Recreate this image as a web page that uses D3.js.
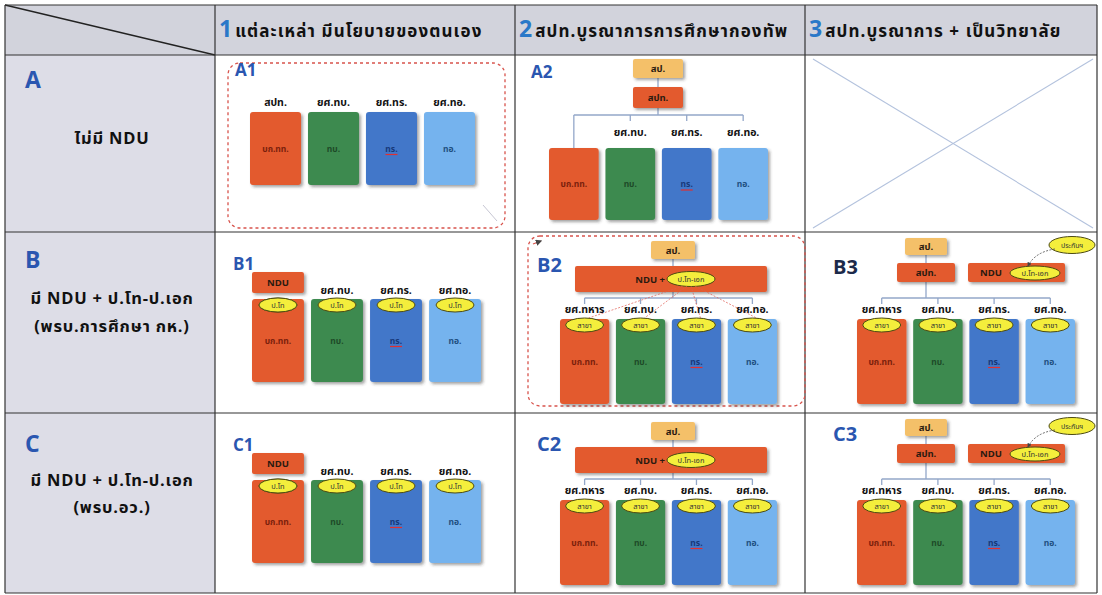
<!DOCTYPE html>
<html>
<head>
<meta charset="utf-8">
<script src="https://cdn.jsdelivr.net/npm/d3@7"></script>
<style>
  body { margin: 0; background: #fff; }
  text { font-family: "Noto Sans Thai", "Tahoma", "Noto Sans", sans-serif; }
</style>
</head>
<body>
<div id="container"></div>
<script>
/* DATA */
const colNums = ["1", "2", "3"];
const colTitles = ["แต่ละเหล่า มีนโยบายของตนเอง", "สปท.บูรณาการการศึกษากองทัพ", "สปท.บูรณาการ + เป็นวิทยาลัย"];
const rowKeys = ["A", "B", "C"];
const rowDesc = [["ไม่มี NDU"], ["มี NDU + ป.โท-ป.เอก", "(พรบ.การศึกษา กห.)"], ["มี NDU + ป.โท-ป.เอก", "(พรบ.อว.)"]];
const cellNames = [["A1", "A2", ""], ["B1", "B2", "B3"], ["C1", "C2", "C3"]];
const units = ["บก.ทท.", "ทบ.", "ทร.", "ทอ."];
const eduOwn = ["สปท.", "ยศ.ทบ.", "ยศ.ทร.", "ยศ.ทอ."];
const eduJoint = ["ยศ.ทหาร", "ยศ.ทบ.", "ยศ.ทร.", "ยศ.ทอ."];
const topOffice = "สป.";
const institute = "สปท.";
const college = "NDU";
const degreeTag = "ป.โท";
const branchTag = "สาขา";
const nduTag = "ป.โท-เอก";
const qaTag = "ประกันฯ";
const unitFill = ["#e35a2e", "#3d8a4f", "#4377c9", "#74b3ee"];
const unitInk = ["#7a200c", "#1d4a28", "#17397a", "#1f4f80"];

/* LAYOUT */
const W = 1102, H = 595;
const gx = [5, 215, 515, 805, 1097];
const gy = [5, 55, 232, 413, 593];
const blue = "#2a56b0";
const lineCol = "#93a7c9";

const svg = d3.select("#container").append("svg")
  .attr("width", W).attr("height", H);

const defs = svg.append("defs");
const f = defs.append("filter").attr("id", "sh").attr("x", "-20%").attr("y", "-20%").attr("width", "150%").attr("height", "150%");
f.append("feDropShadow").attr("dx", 2).attr("dy", 2).attr("stdDeviation", 1.4)
  .attr("flood-color", "#333").attr("flood-opacity", 0.45);
defs.append("marker").attr("id", "arr").attr("viewBox", "0 0 10 10")
  .attr("refX", 8).attr("refY", 5).attr("markerWidth", 5).attr("markerHeight", 5)
  .attr("orient", "auto")
  .append("path").attr("d", "M0,0L10,5L0,10z").attr("fill", "#444");

/* GRID BACKGROUND */
svg.append("rect").attr("x", gx[0]).attr("y", gy[0]).attr("width", gx[4] - gx[0]).attr("height", gy[1] - gy[0])
  .attr("fill", "#d2d3dc");
svg.append("rect").attr("x", gx[0]).attr("y", gy[1]).attr("width", gx[1] - gx[0]).attr("height", gy[4] - gy[1])
  .attr("fill", "#dddde7");

// diagonal in corner
svg.append("line").attr("x1", gx[0]).attr("y1", gy[0]).attr("x2", gx[1]).attr("y2", gy[1])
  .attr("stroke", "#222").attr("stroke-width", 1.3);

// grid lines
svg.selectAll(".vl").data(gx).join("line")
  .attr("x1", d => d).attr("x2", d => d).attr("y1", gy[0]).attr("y2", gy[4])
  .attr("stroke", "#333").attr("stroke-width", 1.2);
svg.selectAll(".hl").data(gy).join("line")
  .attr("y1", d => d).attr("y2", d => d).attr("x1", gx[0]).attr("x2", gx[4])
  .attr("stroke", "#333").attr("stroke-width", 1.2);

/* COLUMN HEADERS */
colTitles.forEach((t, i) => {
  const h = svg.append("text").attr("x", gx[i + 1] + 4).attr("y", 37);
  h.append("tspan").attr("font-size", 23).attr("font-weight", "bold").attr("fill", "#2a78c8").text(colNums[i]);
  h.append("tspan").attr("dx", 3).attr("font-size", 17).attr("font-weight", "bold")
    .attr("letter-spacing", 1.1).attr("fill", "#111").text(t);
});

/* ROW HEADERS */
const rowKeyY = [88, 268, 452];
const rowDescY = [[144], [304, 332], [486, 513]];
rowKeys.forEach((k, i) => {
  svg.append("text").attr("x", 25).attr("y", rowKeyY[i]).attr("font-size", 23).attr("font-weight", "bold")
    .attr("fill", blue).text(k);
  rowDesc[i].forEach((t, j) => {
    svg.append("text").attr("x", 112).attr("y", rowDescY[i][j]).attr("text-anchor", "middle")
      .attr("font-size", 16.5).attr("font-weight", "bold").attr("letter-spacing", 0.8)
      .attr("fill", "#111").text(t);
  });
});

/* HELPERS */
function cell(r, c) {
  return svg.append("g").attr("transform", `translate(${gx[c + 1]},${gy[r + 1]})`);
}
function label(g, name, x, y, size, col) {
  g.append("text").attr("x", x).attr("y", y).attr("font-size", size || 17).attr("font-weight", "bold")
    .attr("fill", col || blue).text(name);
}
function dashed(g, x, y, w, h) {
  g.append("rect").attr("x", x).attr("y", y).attr("width", w).attr("height", h).attr("rx", 12)
    .attr("fill", "none").attr("stroke", "#d8534c").attr("stroke-width", 1.3).attr("stroke-dasharray", "3,3");
}
function block(g, x, y, w, h, fill, txt, size) {
  g.append("rect").attr("x", x).attr("y", y).attr("width", w).attr("height", h).attr("rx", 2)
    .attr("fill", fill).attr("filter", "url(#sh)");
  if (txt) g.append("text").attr("x", x + w / 2).attr("y", y + h / 2 + 3.5).attr("text-anchor", "middle")
    .attr("font-size", size || 9.5).attr("font-weight", "bold").attr("fill", "#2b1a10").text(txt);
}
function tag(g, cx, cy, rx, ry, txt, size) {
  g.append("ellipse").attr("cx", cx).attr("cy", cy).attr("rx", rx).attr("ry", ry)
    .attr("fill", "#f4ee3c").attr("stroke", "#4c4a12").attr("stroke-width", 1);
  g.append("text").attr("x", cx).attr("y", cy + 3).attr("text-anchor", "middle")
    .attr("font-size", size || 7.5).attr("fill", "#333").text(txt);
}
// the four service columns
function unitBoxes(g, range, top, bottom, labels, labelY, tagTxt, tagY) {
  const x = d3.scaleBand().domain(units).range(range).paddingInner(0.12);
  const bw = x.bandwidth();
  const gb = g.append("g");
  gb.selectAll("rect").data(units).join("rect")
    .attr("x", d => x(d)).attr("y", top).attr("width", bw).attr("height", bottom - top).attr("rx", 3)
    .attr("fill", (d, i) => unitFill[i]).attr("filter", "url(#sh)");
  gb.selectAll(".ut").data(units).join("text")
    .attr("x", d => x(d) + bw / 2).attr("y", top + (bottom - top) * 0.5 + 3)
    .attr("text-anchor", "middle").attr("font-size", 8.5).attr("font-weight", "bold")
    .attr("fill", (d, i) => unitInk[i]).text(d => d);
  // red underline on ทร.
  gb.append("line").attr("x1", x(units[2]) + bw / 2 - 6).attr("x2", x(units[2]) + bw / 2 + 6)
    .attr("y1", top + (bottom - top) * 0.5 + 6).attr("y2", top + (bottom - top) * 0.5 + 6)
    .attr("stroke", "#e03030").attr("stroke-width", 1.2);
  if (labels) {
    labels.forEach((t, i) => {
      if (t) g.append("text").attr("x", x(units[i]) + bw / 2).attr("y", labelY).attr("text-anchor", "middle")
        .attr("font-size", 10.5).attr("font-weight", "bold").attr("fill", "#111").text(t);
    });
  }
  if (tagTxt) units.forEach(u => tag(g, x(u) + bw / 2, tagY, 19, 7, tagTxt));
  return x;
}
function tree(g, x, xs, yLine, yFrom, downFirst, yTop) {
  const bw = x.bandwidth();
  const cx = units.map(u => x(u) + bw / 2);
  g.append("line").attr("x1", cx[0]).attr("x2", cx[3]).attr("y1", yLine).attr("y2", yLine)
    .attr("stroke", lineCol).attr("stroke-width", 1.3);
  g.append("line").attr("x1", xs).attr("x2", xs).attr("y1", yFrom).attr("y2", yLine)
    .attr("stroke", lineCol).attr("stroke-width", 1.3);
  cx.forEach((c, i) => {
    g.append("line").attr("x1", c).attr("x2", c).attr("y1", yLine)
      .attr("y2", (i === 0 && downFirst) ? yTop : yLine + 6)
      .attr("stroke", lineCol).attr("stroke-width", 1.3);
  });
}

/* A1 */
{
  const g = cell(0, 0);
  dashed(g, 13, 8, 277, 165);
  label(g, cellNames[0][0], 20, 21);
  unitBoxes(g, [35, 260], 57, 130, eduOwn, 51);
  g.append("line").attr("x1", 268).attr("y1", 150).attr("x2", 282).attr("y2", 166)
    .attr("stroke", "#b8b8c8").attr("stroke-width", 0.8);
}

/* A2 */
{
  const g = cell(0, 1);
  label(g, cellNames[0][1], 16, 23);
  const x = d3.scaleBand().domain(units).range([34, 253]).paddingInner(0.12);
  tree(g, x, 143, 60, 14, true, 93);
  block(g, 118, 4, 50, 19, "#f4c069", topOffice);
  block(g, 118, 32, 50, 21, unitFill[0], institute);
  unitBoxes(g, [34, 253], 93, 165, ["", eduOwn[1], eduOwn[2], eduOwn[3]], 81);
}

/* A3 : not applicable */
{
  const g = cell(0, 2);
  const w = gx[4] - gx[3], h = gy[2] - gy[1];
  g.append("line").attr("x1", 8).attr("y1", 4).attr("x2", w - 4).attr("y2", h - 4)
    .attr("stroke", "#b3c2dd").attr("stroke-width", 1.1);
  g.append("line").attr("x1", 8).attr("y1", h - 4).attr("x2", w - 4).attr("y2", 4)
    .attr("stroke", "#b3c2dd").attr("stroke-width", 1.1);
}

/* B1, C1 */
[1, 2].forEach(r => {
  const g = cell(r, 0);
  label(g, cellNames[r][0], 18, 38);
  const x = unitBoxes(g, [37, 266], 67, 150, ["", eduOwn[1], eduOwn[2], eduOwn[3]], 62, degreeTag, 73);
  block(g, x(units[0]), 40, x.bandwidth(), 21, unitFill[0], college, 9.5);
  tag(g, x(units[0]) + x.bandwidth() / 2, 73, 19, 7, degreeTag);
});

/* B2, C2 */
[1, 2].forEach(r => {
  const g = cell(r, 1);
  if (r === 1) {
    dashed(g, 13, 4, 277, 170);
    g.append("path").attr("d", "M18,12 L26,9").attr("stroke", "#d8534c").attr("stroke-width", 1.3)
      .attr("marker-end", "url(#arr)");
  }
  label(g, cellNames[r][1], 22, r === 1 ? 40 : 38, 20);
  const x = d3.scaleBand().domain(units).range([45, 262]).paddingInner(0.12);
  tree(g, x, 158, 66, 20, false);
  block(g, 136, 9, 44, 18, "#f4c069", topOffice);
  block(g, 60, 34, 192, 26, unitFill[0], "");
  g.append("text").attr("x", 150).attr("y", 51).attr("text-anchor", "end").attr("font-size", 9.5)
    .attr("font-weight", "bold").attr("fill", "#2b1a10").text(college + " +");
  tag(g, 176, 47, 24, 7.5, nduTag, 7.5);
  if (r === 1) {
    units.forEach((u, i) => {
      g.append("line").attr("x1", 168 + i * 4).attr("y1", 54).attr("x2", x(u) + x.bandwidth() / 2 + 4).attr("y2", 86)
        .attr("stroke", "#e05a50").attr("stroke-width", 0.7).attr("stroke-dasharray", "2,1.5");
    });
  }
  unitBoxes(g, [45, 262], 87, 172, eduJoint, 81, branchTag, 93);
});

/* B3, C3 */
[1, 2].forEach(r => {
  const g = cell(r, 2);
  label(g, cellNames[r][2], 28, r === 1 ? 42 : 28, 20, r === 1 ? "#1c2a4a" : blue);
  const x = d3.scaleBand().domain(units).range([52, 270]).paddingInner(0.12);
  tree(g, x, 121, 66, 20, false);
  block(g, 100, 6, 42, 17, "#f4c069", topOffice);
  block(g, 92, 31, 58, 19, unitFill[0], institute);
  block(g, 163, 31, 97, 19, unitFill[0], "");
  g.append("text").attr("x", 186).attr("y", 44).attr("text-anchor", "middle").attr("font-size", 9.5)
    .attr("font-weight", "bold").attr("fill", "#2b1a10").text(college);
  tag(g, 230, 41, 25, 7, nduTag, 7.5);
  tag(g, 267, 13, 23, 8.5, qaTag, 7);
  g.append("path").attr("d", "M250,17 Q230,20 223,34")
    .attr("fill", "none").attr("stroke", "#555").attr("stroke-width", 0.9).attr("stroke-dasharray", "2,1.5")
    .attr("marker-end", "url(#arr)");
  unitBoxes(g, [52, 270], 87, 172, eduJoint, 81, branchTag, 93);
});
</script>
</body>
</html>
